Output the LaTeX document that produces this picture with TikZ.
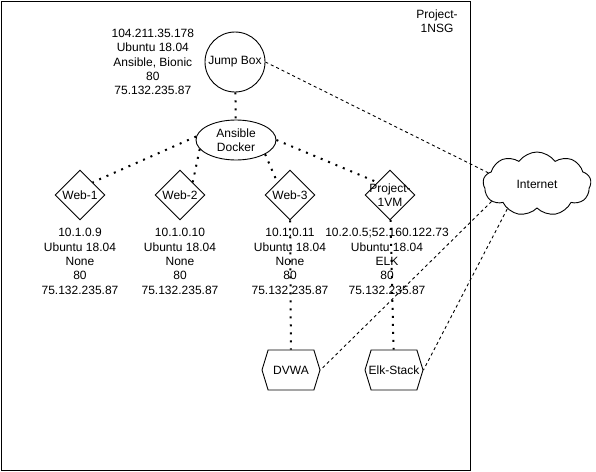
\documentclass[tikz,border=0pt]{standalone}
\usepackage{fontspec}
\setmainfont{Liberation Sans}
\usetikzlibrary{shapes,shapes.geometric,shapes.symbols}
\usetikzlibrary{positioning}
\usetikzlibrary{calc}

\begin{document}
\begin{tikzpicture}[x=1pt,y=-1pt,line width=0.9pt,
	font=\fontsize{12}{14.4}\selectfont,
	vm/.style={draw,diamond,aspect=1,minimum width=50pt,minimum height=50pt,inner sep=0pt},
	info/.style={align=center,inner sep=0pt},
	cont/.style={draw,signal,signal to=east and west,signal pointer angle=146,minimum width=58pt,minimum height=40pt,inner sep=0pt},
	link/.style={line width=2pt,dash pattern=on 2pt off 6pt},
	net/.style={dash pattern=on 3pt off 3pt}]
	\useasboundingbox (0,0) rectangle (596,471);
	\draw (1,1) rectangle (470,470);
	\node[align=center] (NSG) at (437,21) {Project-\\1NSG};
	\node[draw,circle,minimum size=60pt,inner sep=0pt] (JB) at (235,62) {Jump Box};
	\node[info,left=10pt of JB] (JBinfo) {104.211.35.178\\Ubuntu 18.04\\Ansible, Bionic\\80\\75.132.235.87};
	\node[draw,ellipse,minimum width=80pt,minimum height=40pt,inner sep=0pt,align=center] (AD) at (236,140) {Ansible\\Docker};
	\node[vm] (W1) at (80,195) {Web-1};
	\node[info,below=7.5pt of W1] (W1info) {10.1.0.9\\Ubuntu 18.04\\None\\80\\75.132.235.87};
	\node[vm] (W2) at (180,195) {Web-2};
	\node[info,below=7.5pt of W2] (W2info) {10.1.0.10\\Ubuntu 18.04\\None\\80\\75.132.235.87};
	\node[vm] (W3) at (290,195) {Web-3};
	\node[info,below=7.5pt of W3] (W3info) {10.1.0.11\\Ubuntu 18.04\\None\\80\\75.132.235.87};
	\node[vm][label={[align=center]center:Project-\\1VM}] (P1) at (390,195) {};
	\node[info,below=7.5pt of P1,xshift=-3pt] (P1info) {10.2.0.5;52.160.122.73\\Ubuntu 18.04\\ELK\\80\\75.132.235.87};
	\node[draw,cloud,cloud puffs=9,cloud puff arc=110,aspect=1.7,minimum width=108pt,minimum height=64pt,inner sep=0pt] (Inet) at (537,184) {Internet};
	\node[cont] (DVWA) at (291,370) {DVWA};
	\node[cont][label=center:Elk-Stack] (ELK) at (394,370) {};
	% Ansible links
	\draw[link] (JB) -- (AD);
	\draw[link] (AD.175) -- (W1.north east);
	\draw[link] (AD.194) -- (W2.north east);
	\draw[link] (AD.-26) -- (W3.north west);
	\draw[link] (AD.east) -- (P1.north west);
	\draw[link] (W3) -- (DVWA);
	\draw[link] (P1) -- (ELK);
	% Internet links
	\draw[net] (JB.east) -- (Inet.167);
	\draw[net] (Inet.201) -- (DVWA.east);
	\draw[net] (Inet.220) -- (ELK.east);
\end{tikzpicture}
\end{document}
